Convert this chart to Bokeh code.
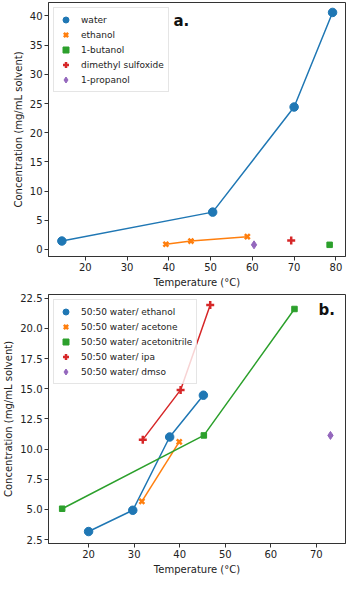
from bokeh.plotting import figure
from bokeh.layouts import column
from bokeh.models import Range1d, FixedTicker, Legend, LegendItem, Label, NumeralTickFormatter
from bokeh.embed import file_html
from bokeh.resources import INLINE

# ---- panel a data ----
water_t = [14.4, 50.5, 70.0, 79.2]
water_c = [1.45, 6.4, 24.4, 40.6]
ethanol_t = [39.3, 45.3, 58.8]
ethanol_c = [0.9, 1.45, 2.2]
butanol_t = [78.5]
butanol_c = [0.8]
dmso_t = [69.3]
dmso_c = [1.55]
propanol_t = [60.4]
propanol_c = [0.8]

# ---- panel b data ----
wet_t = [20.0, 29.7, 37.8, 45.2]
wet_c = [3.17, 4.93, 11.0, 14.46]
wac_t = [31.7, 39.9]
wac_c = [5.67, 10.6]
wacn_t = [14.2, 45.3, 65.2]
wacn_c = [5.06, 11.13, 21.6]
wipa_t = [31.9, 40.2, 46.7]
wipa_c = [10.78, 14.9, 21.94]
wdmso_t = [73.1]
wdmso_c = [11.13]

xticks_a = [20, 30, 40, 50, 60, 70, 80]
yticks_a = [0, 5, 10, 15, 20, 25, 30, 35, 40]
xticks_b = [20, 30, 40, 50, 60, 70]
yticks_b = [2.5, 5.0, 7.5, 10.0, 12.5, 15.0, 17.5, 20.0, 22.5]

C = ["#1f77b4", "#ff7f0e", "#2ca02c", "#d62728", "#9467bd"]
FONT = "DejaVu Sans"


def style(p, xt, yt):
    p.outline_line_color = "#333333"
    p.outline_line_width = 1
    p.xgrid.visible = False
    p.ygrid.visible = False
    for ax in (p.xaxis[0], p.yaxis[0]):
        ax.major_tick_in = 0
        ax.major_tick_out = 4
        ax.minor_tick_line_color = None
        ax.axis_line_color = "#333333"
        ax.major_tick_line_color = "#333333"
        ax.major_label_text_font = FONT
        ax.major_label_text_font_size = "10px"
        ax.major_label_text_color = "#222222"
        ax.axis_label_text_font = FONT
        ax.axis_label_text_font_size = "10px"
        ax.axis_label_text_font_style = "normal"
        ax.axis_label_text_color = "#222222"
        ax.axis_label_standoff = 3
        ax.major_label_standoff = 2
    p.xaxis[0].ticker = FixedTicker(ticks=xt)
    p.yaxis[0].ticker = FixedTicker(ticks=yt)
    p.xaxis[0].axis_label = "Temperature (°C)"
    p.yaxis[0].axis_label = "Concentration (mg/mL solvent)"


def scatter(p, x, y, marker, color, size, lw=1):
    return p.scatter(x, y, marker=marker, size=size, fill_color=color,
                     line_color=color, line_width=lw)


def make_legend(p, items):
    leg = Legend(items=items, location="top_left")
    leg.label_text_font = FONT
    leg.label_text_font_size = "9px"
    leg.label_text_color = "#222222"
    leg.glyph_height = 15
    leg.glyph_width = 15
    leg.label_height = 13
    leg.spacing = -1
    leg.padding = 4
    leg.margin = 5
    leg.label_standoff = 8
    leg.border_line_color = "#cccccc"
    leg.border_line_width = 1
    leg.background_fill_alpha = 0.8
    p.add_layout(leg)


# ---------- panel a ----------
pa = figure(width=347, height=290, output_backend="svg", toolbar_location=None,
            x_range=Range1d(11.2, 82.3), y_range=Range1d(-1.2, 42.3),
            min_border_left=39, min_border_right=2, min_border_top=2, min_border_bottom=30)
style(pa, xticks_a, yticks_a)
pa.line(water_t, water_c, line_color=C[0], line_width=1.5)
pa.line(ethanol_t, ethanol_c, line_color=C[1], line_width=1.5)
ra = [
    scatter(pa, water_t, water_c, "circle", C[0], 8.5),
    scatter(pa, ethanol_t, ethanol_c, "x", C[1], 7, 2.5),
    scatter(pa, butanol_t, butanol_c, "square", C[2], 5.5),
    scatter(pa, dmso_t, dmso_c, "cross", C[3], 8, 2.5),
    scatter(pa, propanol_t, propanol_c, "diamond", C[4], 8),
]
names_a = ["water", "ethanol", "1-butanol", "dimethyl sulfoxide", "1-propanol"]
make_legend(pa, [LegendItem(label=n, renderers=[r]) for n, r in zip(names_a, ra)])
pa.add_layout(Label(x=41.1, y=37.6, text="a.", text_font=FONT, text_font_size="15px",
                    text_font_style="bold", text_color="#111111"))

# ---------- panel b ----------
pb = figure(width=347, height=287, output_backend="svg", toolbar_location=None,
            x_range=Range1d(11.2, 76.4), y_range=Range1d(2.18, 22.8),
            min_border_left=37, min_border_right=2, min_border_top=4, min_border_bottom=30)
style(pb, xticks_b, yticks_b)
pb.yaxis[0].formatter = NumeralTickFormatter(format="0.0")
pb.line(wet_t, wet_c, line_color=C[0], line_width=1.5)
pb.line(wac_t, wac_c, line_color=C[1], line_width=1.5)
pb.line(wacn_t, wacn_c, line_color=C[2], line_width=1.5)
pb.line(wipa_t, wipa_c, line_color=C[3], line_width=1.5)
rb = [
    scatter(pb, wet_t, wet_c, "circle", C[0], 8.5),
    scatter(pb, wac_t, wac_c, "x", C[1], 7, 2.5),
    scatter(pb, wacn_t, wacn_c, "square", C[2], 5.5),
    scatter(pb, wipa_t, wipa_c, "cross", C[3], 8, 2.5),
    scatter(pb, wdmso_t, wdmso_c, "diamond", C[4], 8),
]
names_b = ["50:50 water/ ethanol", "50:50 water/ acetone", "50:50 water/ acetonitrile",
           "50:50 water/ ipa", "50:50 water/ dmso"]
make_legend(pb, [LegendItem(label=n, renderers=[r]) for n, r in zip(names_b, rb)])
pb.add_layout(Label(x=70.5, y=20.8, text="b.", text_font=FONT, text_font_size="15px",
                    text_font_style="bold", text_color="#111111"))

layout = column(pa, pb, spacing=0)
open("out.html", "w").write(file_html(layout, INLINE))
